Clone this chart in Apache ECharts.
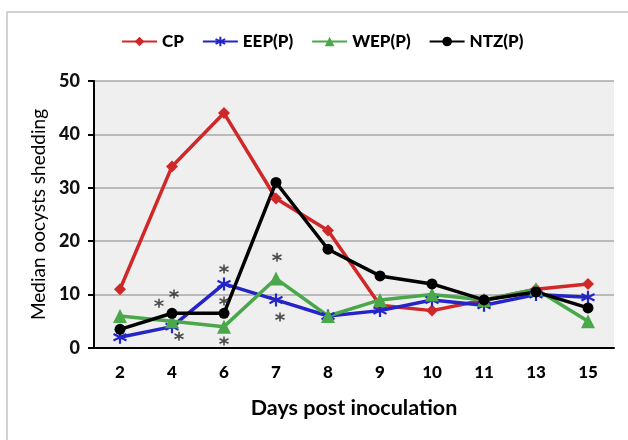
<!DOCTYPE html>
<html>
<head>
<meta charset="utf-8">
<script src="https://cdn.jsdelivr.net/npm/echarts@6/dist/echarts.min.js"></script>
<style>
  html, body { margin: 0; padding: 0; background: #fff; }
  #chart { width: 628px; height: 440px; }
</style>
</head>
<body>
<div id="chart"></div>
<script>
// 数据：横轴天数 + 四组中位数
const days = ['2', '4', '6', '7', '8', '9', '10', '11', '13', '15'];
const cp  = [11, 34, 44, 28, 22, 8, 7, 9, 11, 12];
const eep = [2, 4, 12, 9, 6, 7, 9, 8, 10, 9.5];
const wep = [6, 5, 4, 13, 6, 9, 10, 9, 11, 5];
const ntz = [3.5, 6.5, 6.5, 31, 18.5, 13.5, 12, 9, 10.5, 7.5];
// 星号标注：[类别序号, 数值]
const starMarks = [[1, 8.4], [1, 10.1], [1, 2.2], [2, 14.8], [2, 8.8], [2, 1.3], [3, 17], [3, 5.8]];
const starShift = [-13, 2, 7, 0, 0, 0, 1, 4];

const FONT = 'Lato, "Open Sans", sans-serif';
const asterisk = 'path://M5,0L5,10M0.7,2.5L9.3,7.5M0.7,7.5L9.3,2.5';

function lineSeries(name, data, color, symbol, size, extra) {
    return Object.assign({
        name: name,
        type: 'line',
        data: data,
        symbol: symbol,
        symbolSize: size,
        lineStyle: { color: color, width: 3.5 },
        itemStyle: { color: color },
        z: 3
    }, extra || {});
}

let myChart = echarts.init(document.getElementById('chart'));
let option = {
    animation: false,
    graphic: [{
        type: 'rect',
        shape: { x: 7, y: 12, width: 700, height: 500 },
        style: { fill: 'none', stroke: '#c4c4c4', lineWidth: 1.5 },
        silent: true
    }],
    legend: {
        top: 28,
        left: 116,
        itemWidth: 35,
        itemHeight: 12,
        itemGap: 18,
        textStyle: { fontFamily: FONT, fontSize: 17, fontWeight: 900, color: '#000' },
        data: ['CP', 'EEP(P)', 'WEP(P)', 'NTZ(P)']
    },
    grid: {
        left: 94, right: 14, top: 81, bottom: 92,
        show: true, backgroundColor: '#efefef', borderWidth: 0
    },
    xAxis: {
        type: 'category',
        data: days,
        name: 'Days post inoculation',
        nameLocation: 'middle',
        nameGap: 49,
        nameTextStyle: { fontFamily: FONT, fontSize: 21.5, fontWeight: 'bold', color: '#000' },
        axisLine: { lineStyle: { color: '#000', width: 2 } },
        axisTick: { length: 6, lineStyle: { color: '#000', width: 2 } },
        axisLabel: { fontFamily: FONT, fontSize: 17, fontWeight: 900, color: '#000', margin: 16 }
    },
    yAxis: {
        type: 'value',
        min: 0, max: 50, interval: 10,
        name: 'Median oocysts shedding',
        nameLocation: 'middle',
        nameGap: 44,
        nameTextStyle: { fontFamily: FONT, fontSize: 19, color: '#000' },
        axisLine: { show: true, lineStyle: { color: '#000', width: 2 } },
        axisTick: { show: true, length: 6, lineStyle: { color: '#000', width: 2 } },
        axisLabel: { fontFamily: FONT, fontSize: 18, fontWeight: 900, color: '#111', margin: 14 },
        splitLine: { lineStyle: { color: '#a8a8a8', width: 1.5 } }
    },
    series: [
        lineSeries('CP', cp, '#d02828', 'diamond', 12),
        lineSeries('EEP(P)', eep, '#2424c8', asterisk, 13, {
            itemStyle: { color: '#2424c8', borderColor: '#2424c8', borderWidth: 2.2 }
        }),
        lineSeries('WEP(P)', wep, '#4aa84a', 'triangle', 14),
        lineSeries('NTZ(P)', ntz, '#000000', 'circle', 11),
        {
            name: 'sig',
            type: 'scatter',
            data: starMarks.map((d, i) => ({ value: d, symbolOffset: [starShift[i], 0] })),
            symbol: asterisk,
            symbolSize: 9,
            itemStyle: { color: 'none', borderColor: '#222', borderWidth: 1.6 },
            z: 4
        }
    ]
};
myChart.setOption(option);
</script>
</body>
</html>
